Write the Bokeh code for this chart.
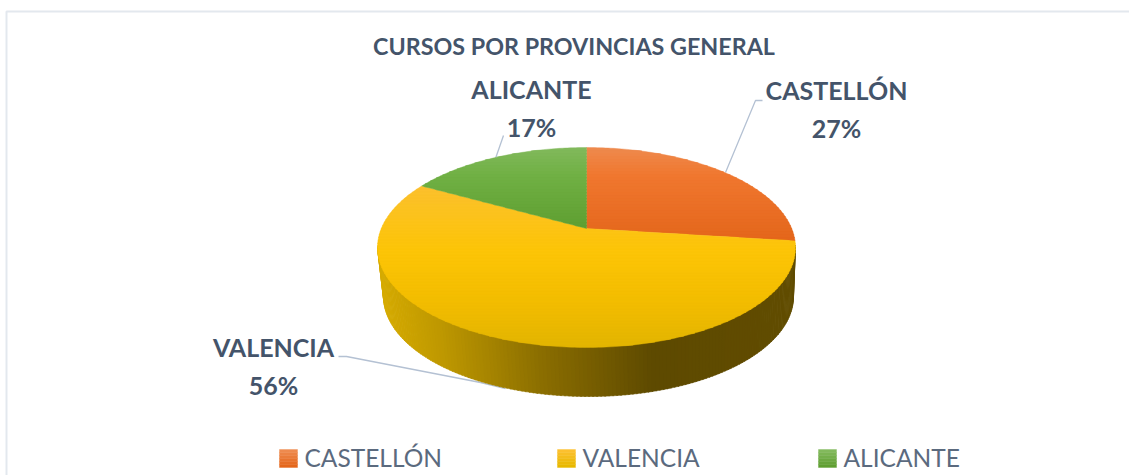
import math
from bokeh.plotting import figure
from bokeh.models import Range1d
from bokeh.core.properties import value
from bokeh.embed import file_html
from bokeh.resources import INLINE

categories = ["CASTELLÓN", "VALENCIA", "ALICANTE"]
percent = [27, 56, 17]
title_text = "CURSOS POR PROVINCIAS GENERAL"

W, H = 1129, 475
p = figure(width=W, height=H, output_backend="svg", toolbar_location=None,
           x_range=Range1d(0, W), y_range=Range1d(H, 0),
           min_border=0, outline_line_color=None, background_fill_color="white",
           border_fill_color="white")
p.axis.visible = False
p.grid.visible = False

# frame of the embedded chart
p.line([6, 6, 1129], [475, 11, 11], line_color="#e3e8ee", line_width=2)

# pie geometry (pixel layout of the projected disc)
CX, CY, RX, RY, PERSP = 586, 247, 209, 100, 0.19
BCX, BCY, BRX, BRY = 588, 296, 205, 100


def hex2rgb(h):
    return tuple(int(h[i:i + 2], 16) for i in (1, 3, 5))


def ramp(stops, t):
    for (t0, c0), (t1, c1) in zip(stops, stops[1:]):
        if t <= t1:
            f = max(0, (t - t0) / (t1 - t0))
            a, b = hex2rgb(c0), hex2rgb(c1)
            return "#%02x%02x%02x" % tuple(round(a[i] + (b[i] - a[i]) * f) for i in range(3))
    return stops[-1][1]


def project(theta):
    u, v = math.sin(theta), math.cos(theta)
    d = 1 + PERSP * v
    uu = u * math.sqrt(1 - PERSP ** 2) / d
    vv = (v + PERSP) / d
    return CX + RX * uu, CY - RY * vv


def apex():
    return CX, CY - RY * PERSP


def clip(poly, y0, y1):
    def cut(pts, keep, yy):
        out = []
        for i, a in enumerate(pts):
            b = pts[(i + 1) % len(pts)]
            ka, kb = keep(a[1]), keep(b[1])
            if ka:
                out.append(a)
            if ka != kb:
                f = (yy - a[1]) / (b[1] - a[1])
                out.append((a[0] + (b[0] - a[0]) * f, yy))
        return out
    r = cut(poly, lambda y: y >= y0, y0)
    return cut(r, lambda y: y <= y1, y1) if r else r


face_stops = [
    [(147, "#ee8a4e"), (175, "#f0772f"), (240, "#e4661b")],
    [(185, "#fcc02e"), (250, "#fdc507"), (300, "#f3bd00"), (347, "#e3b500")],
    [(147, "#82b95c"), (175, "#70b044"), (228, "#5f9f31")],
]

# leader lines, under the pie
LEADER = "#b4c1d3"
p.line([338, 346, 480, 505], [356, 356, 382, 388], line_color=LEADER, line_width=1.3)
p.line([725, 755, 762], [172, 100, 100], line_color=LEADER, line_width=1.3)
p.line([495, 503], [158, 135], line_color=LEADER, line_width=1.3)

# wall of the disc, strips coloured across x
wall_stops = [(377, "#d6ab00"), (440, "#bd9700"), (540, "#8a6d00"), (650, "#5e4a00"), (795, "#614c00")]
xs, ys, cs = [], [], []
N = 160
for i in range(N):
    a0 = math.pi * i / N
    a1 = math.pi * (i + 1.3) / N
    x0, x1 = CX - RX * math.cos(a0), CX - RX * math.cos(a1)
    xs.append([x0, x1, BCX - BRX * math.cos(a1), BCX - BRX * math.cos(a0)])
    ys.append([CY + RY * math.sin(a0) - 2, CY + RY * math.sin(a1) - 2,
               BCY + BRY * math.sin(a1), BCY + BRY * math.sin(a0)])
    cs.append(ramp(wall_stops, x0))
p.patches(xs, ys, fill_color=cs, line_color=cs, line_width=0.5)

# top face, from the percentages, clockwise from 12 o'clock
start = 0.0
total = sum(percent)
for k, pct in enumerate(percent):
    end = start + pct / total * 2 * math.pi
    n = max(8, int(pct * 4))
    poly = [apex()] + [project(start + (end - start) * j / n) for j in range(n + 1)]
    bx, by, bc = [], [], []
    y = min(q[1] for q in poly)
    ymax = max(q[1] for q in poly)
    step = 3.0
    while y < ymax:
        part = clip(poly, y, y + step + 0.6)
        if len(part) >= 3:
            bx.append([q[0] for q in part])
            by.append([q[1] for q in part])
            bc.append(ramp(face_stops[k], y + step / 2))
        y += step
    p.patches(bx, by, fill_color=bc, line_color=bc, line_width=0.4)
    start = end

TXT = "#44546a"
FONT = value("Lato")

# title
p.text([573.5], [45.5], text=[title_text], text_font=FONT, text_font_size="23.3px",
       text_font_style="bold", text_color=TXT, text_align="center", text_baseline="middle")

# data labels
label_x = [836, 273, 531]
label_y = [89, 346, 88]
for i in range(3):
    p.text([label_x[i]], [label_y[i]], text=[categories[i]], text_font=FONT,
           text_font_size="25px", text_font_style="bold", text_color=TXT,
           text_align="center", text_baseline="middle")
    p.text([label_x[i]], [label_y[i] + 38], text=[f"{percent[i]}%"], text_font=FONT,
           text_font_size="25px", text_font_style="bold", text_color=TXT,
           text_align="center", text_baseline="middle")

# legend
legend_x = [279, 557, 818]
legend_stops = [
    [(0, "#ee8a4e"), (1, "#e4661b")],
    [(0, "#fcc02e"), (1, "#e8b800")],
    [(0, "#82b95c"), (1, "#5f9f31")],
]
for i, c in enumerate(categories):
    for j in range(6):
        col = ramp(legend_stops[i], j / 5)
        p.quad(left=[legend_x[i]], right=[legend_x[i] + 18], top=[449 + 3 * j],
               bottom=[449 + 3 * j + 3], fill_color=col, line_color=col, line_width=0.4)
    p.text([legend_x[i] + 25], [457], text=[c], text_font=FONT, text_font_size="24.5px",
           text_color="#5b6a7e", text_align="left", text_baseline="middle")

open("out.html", "w").write(file_html(p, INLINE))
